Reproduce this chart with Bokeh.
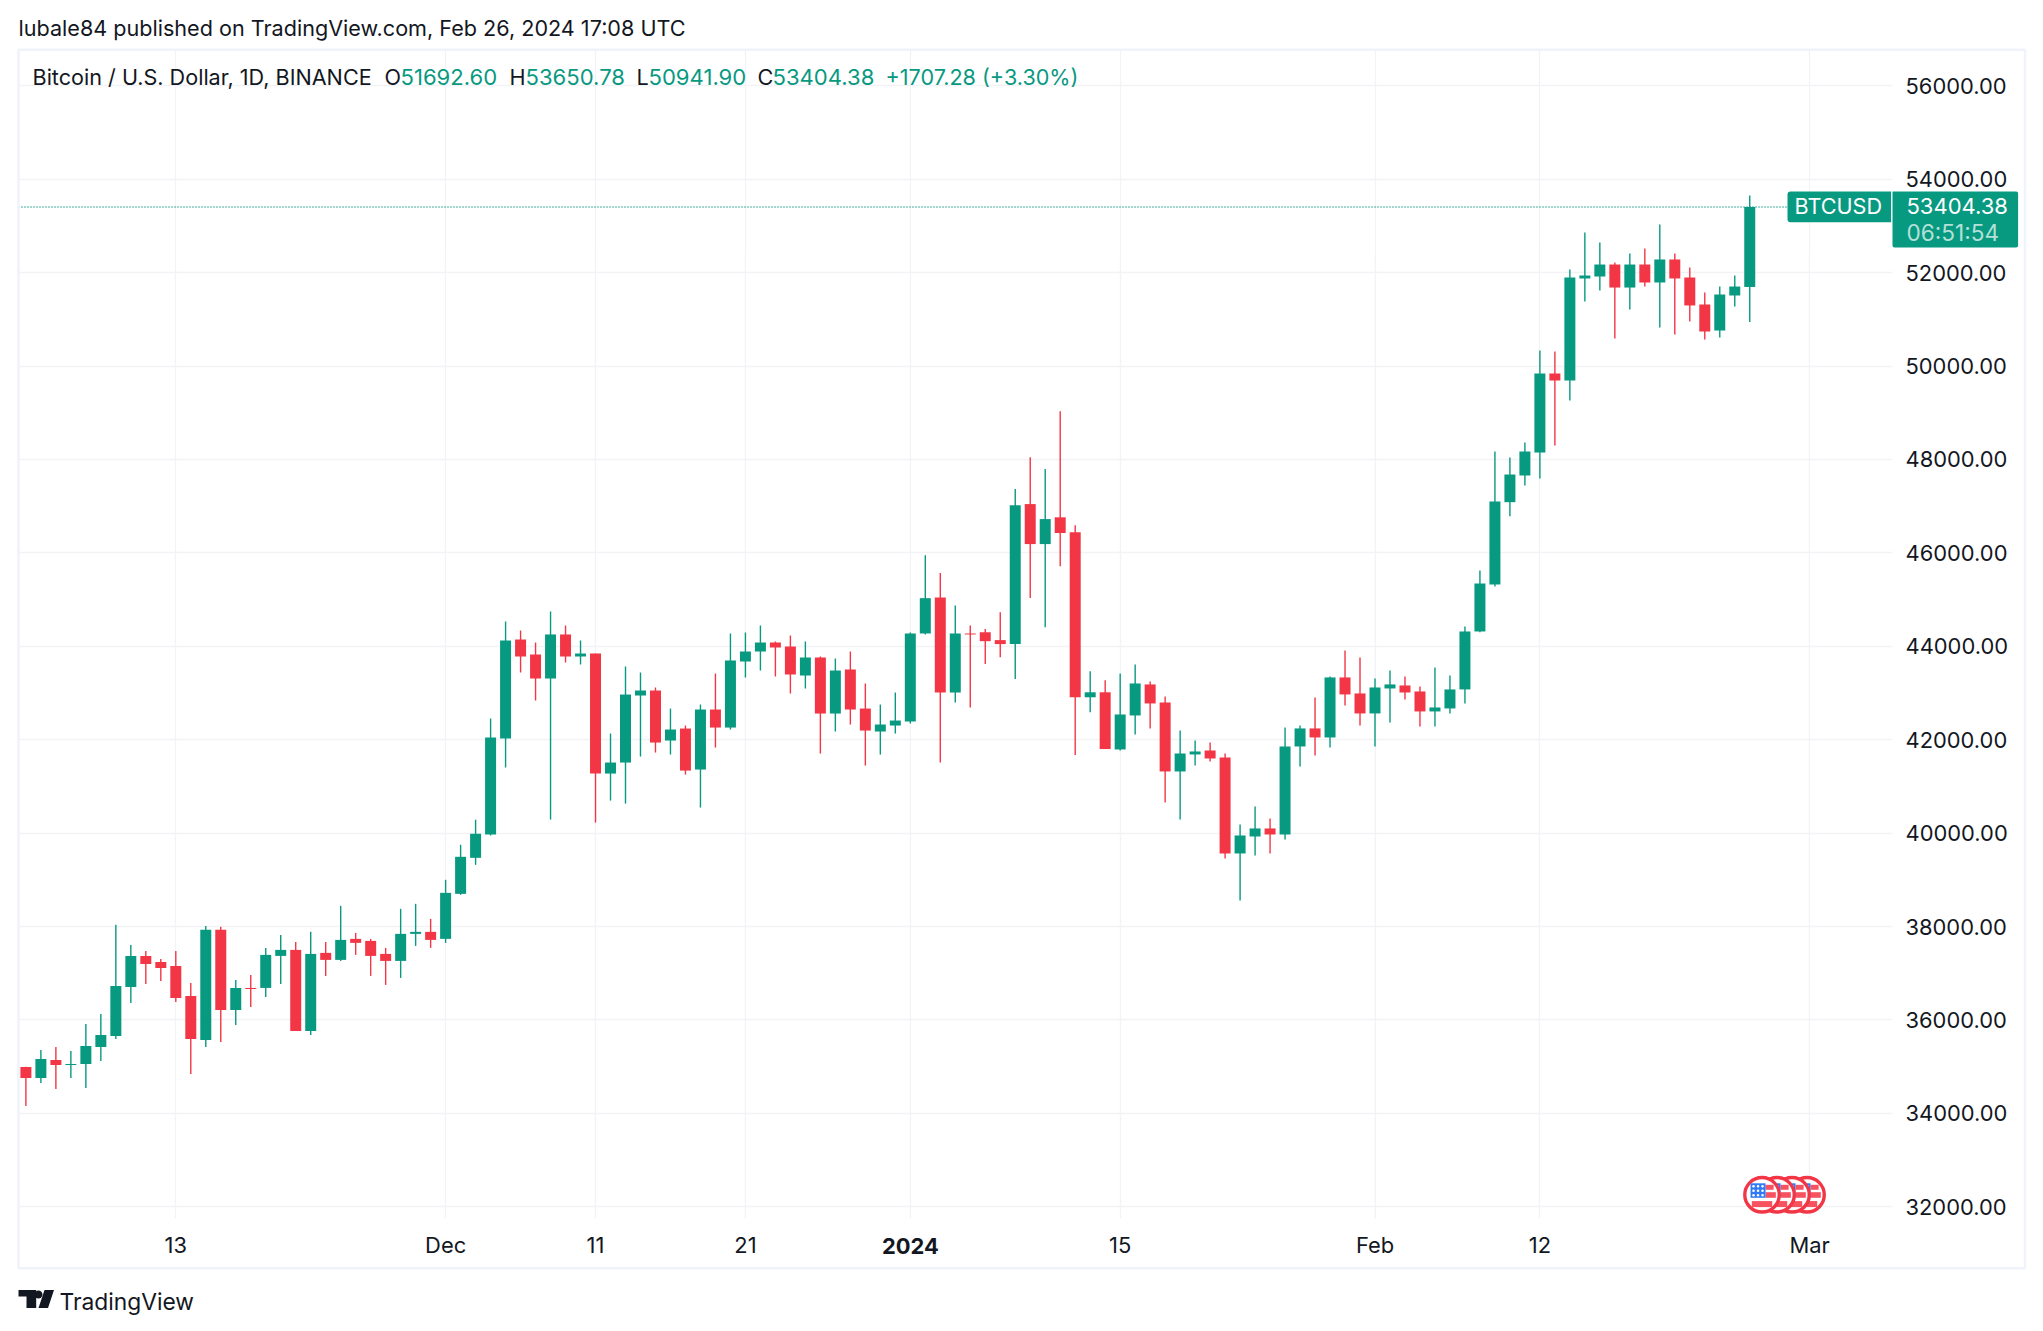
from datetime import date
import math
from bokeh.plotting import figure
from bokeh.models import (ColumnDataSource, FixedTicker, Label, BoxAnnotation, LinearAxis,
                          NumeralTickFormatter)
from bokeh.embed import file_html
from bokeh.resources import INLINE

first_day = date(2023, 11, 3)
opens = [34993,34757,35143,35036,35057,35421,35657,36707,37371,37243,37157,36514,35571,37929,36214,36686,36686,37371,37500,35764,
         37436,37286,37736,37693,37414,37264,37843,37886,37736,38700,39471,39969,42025,44145,43824,43310,44253,43781,43845,41275,
         41511,42946,43053,41982,42239,41361,42646,42260,43674,43888,44081,43995,43374,43760,42560,43503,42667,42175,42303,42389,
         44274,45045,43010,44274,44300,44132,44047,47044,46188,46761,46440,42908,43015,41791,42519,43183,42797,41320,41684,41769,
         41620,39564,39928,40100,39971,41855,42241,42048,43333,42990,42562,43097,43161,43033,42605,42669,43076,44317,45323,47085,
         47656,48148,49840,49690,51874,51916,52173,51680,52173,51788,52281,51895,51317,50760,51510,51692.60]
highs = [35000,35357,35421,35336,35914,36129,38036,37607,37479,37307,37479,36793,38014,37993,36857,36964,37543,37821,37671,37886,
         37671,38443,37864,37736,37543,38379,38486,38164,39000,39750,40286,42453,44531,44338,44081,44745,44445,44124,43845,42132,
         43567,43439,43117,42667,42303,42753,43417,44274,44295,44445,44103,44231,44103,43781,43738,43888,43203,42753,43010,44295,
         45951,45569,44874,44445,44369,44728,47365,48046,47794,49032,46593,43466,43275,43418,43611,43247,42926,42198,41984,41941,
         41705,40185,40571,40314,42262,42305,42904,43354,43911,43761,43311,43482,43354,43140,43547,43375,44425,45623,48170,48041,
         48362,50332,50310,52066,52858,52644,52216,52409,52516,53030,52409,52109,51574,51702,51938,53650.78]
lows = [34157,34650,34521,34757,34543,35121,35593,36364,36771,36836,36386,34843,35421,35529,35893,36279,36493,36771,35764,35679,
        36943,37264,37393,36943,36750,36900,37586,37543,37650,38679,39321,39950,41404,43439,42839,40290,43653,43610,40225,40697,
        40633,41639,41725,41682,41254,40547,41832,42218,43331,43481,43353,42989,43096,41703,42175,42325,41446,41682,42132,42346,
        44253,41511,42796,42689,43619,43765,43298,45034,44407,45714,41670,42587,41800,41770,42112,42241,40656,40292,41448,41534,
        39457,38558,39521,39564,39864,41427,41662,41834,42733,42305,41855,42369,42862,42283,42283,42562,42776,44300,45280,46785,
        47442,47592,48298,49261,51381,51617,50589,51210,51702,50825,50675,50953,50568,50610,51274,50941.90]
closes = [34757,35164,35036,35057,35443,35679,36729,37371,37200,37114,36471,35593,37929,36214,36686,36664,37393,37500,35764,37414,
          37286,37714,37650,37371,37264,37843,37886,37714,38721,39493,39986,42046,44124,43781,43310,44253,43781,43845,41275,41511,
          42967,43053,41939,42218,41339,42646,42260,43696,43888,44081,43974,43396,43760,42560,43481,42646,42196,42325,42410,44274,
          45030,43010,44274,44253,44109,44047,47021,46188,46723,46425,42908,43015,41800,42540,43204,42776,41320,41705,41748,41598,
          39564,39950,40100,39971,41855,42241,42048,43333,42969,42562,43118,43183,43011,42605,42690,43076,44317,45344,47100,47677,
          48170,49840,49690,51895,51938,52173,51680,52173,51788,52281,51874,51296,50739,51531,51702,53404.38]
price_ticks = [32000,34000,36000,38000,40000,42000,44000,46000,48000,50000,52000,54000,56000]
time_ticks = [(date(2023,11,13),"13"),(date(2023,12,1),"Dec"),(date(2023,12,11),"11"),(date(2023,12,21),"21"),
              (date(2024,1,15),"15"),(date(2024,2,1),"Feb"),(date(2024,2,12),"12"),(date(2024,3,1),"Mar")]
year_tick = (date(2024,1,1),"2024")
event_days = [date(2024,3,1),date(2024,2,29),date(2024,2,28),date(2024,2,27)]
last_price = 53404.38
event_price = 32257

UP, DOWN = "#089981", "#f23645"
INK = "#131722"
FONT = "Inter"
GRID = "#f2f3f6"

# The frame fills the canvas so that texts outside the plot pane are not clipped.
PX_PER_DAY = 14.99
PX_PER_PRICE = 93.42 / 2000
def X(px): return (px - 25.4) / PX_PER_DAY
def Y(py): return 32000 + (1206.3 - py) / PX_PER_PRICE
def idx(d): return (d - first_day).days

W, H = 2040, 1325
F_L, F_R, F_T, F_B = 18, 1892, 49, 1218
p = figure(width=W, height=H, min_border=0, x_range=(X(0), X(W)), y_range=(Y(H), Y(0)),
           x_axis_location=None, y_axis_location=None, output_backend="svg", toolbar_location=None,
           background_fill_color="white", border_fill_color="white")
p.outline_line_color = None

days = list(range(len(opens)))
colors = [UP if c >= o else DOWN for o, c in zip(opens, closes)]
src = ColumnDataSource(dict(day=days, open=opens, high=highs, low=lows, close=closes,
                            top=[max(o, c) for o, c in zip(opens, closes)],
                            bottom=[min(o, c) for o, c in zip(opens, closes)], color=colors))

# axes and grid
tick_idx = [idx(d) for d, _ in time_ticks]
xaxis = LinearAxis(fixed_location=Y(F_B), ticker=FixedTicker(ticks=tick_idx),
                   major_label_overrides={idx(d): s for d, s in time_ticks}, major_label_standoff=7)
yaxis = LinearAxis(fixed_location=X(F_R), ticker=FixedTicker(ticks=price_ticks),
                   formatter=NumeralTickFormatter(format="0.00"), major_label_standoff=7)
p.add_layout(xaxis, "below")
p.add_layout(yaxis, "right")
for ax in (xaxis, yaxis):
    ax.axis_line_color = None
    ax.major_tick_line_color = None
    ax.minor_tick_line_color = None
    ax.major_label_text_font = FONT
    ax.major_label_text_font_size = "21.9px"
    ax.major_label_text_color = INK
p.xgrid.ticker = FixedTicker(ticks=tick_idx + [idx(year_tick[0])])
p.ygrid.ticker = FixedTicker(ticks=price_ticks)
for g in (p.xgrid[0], p.ygrid[0]):
    g.grid_line_color = GRID
    g.grid_line_width = 1.3

# white bands keep the grid inside the plot pane
for a, b, c, d in [(0, W, 0, F_T), (0, W, F_B, H), (0, F_L, 0, H), (F_R, W, 0, H)]:
    p.quad(left=[X(a)], right=[X(b)], top=[Y(c)], bottom=[Y(d)], fill_color="white", line_color=None)

# last price line
p.segment([X(F_L)], [last_price], [X(1787)], [last_price], line_color=UP, line_width=1.6, line_dash="1 2")

# candles
p.segment("day", "high", "day", "low", source=src, line_color="color", line_width=1.4)
p.vbar(x="day", width=11/15, top="top", bottom="bottom", source=src, fill_color="color", line_color=None)

# economic events (US flags)
DX, DY = 1/PX_PER_DAY, 1/PX_PER_PRICE
for d in event_days:
    cx = idx(d) - 0.18
    cy = event_price
    p.scatter([cx], [cy], size=34.5, fill_color="white", line_color=DOWN, line_width=3.4)
    for off, h, x0 in ((-7.5, 5, 3.5), (0.2, 5.6, 3.5), (9.3, 6, -15)):
        half = math.sqrt(max(1, 13.8**2 - off**2))
        left = max(-half, x0)
        p.quad(left=[cx + left*DX], right=[cx + half*DX], top=[cy - (off-h/2)*DY], bottom=[cy - (off+h/2)*DY],
               fill_color="#f7525f", line_color=None)
    p.quad(left=[cx - 11.5*DX], right=[cx + 3.5*DX], top=[cy + 11.5*DY], bottom=[cy - 3*DY],
           fill_color="#3179f5", line_color=None)
    star_x = [cx + sx*DX for sx in (-8.5, -4, 0.5) for _ in (0, 1, 2)]
    star_y = [cy + sy*DY for _ in (0, 1, 2) for sy in (8.5, 4, -0.5)]
    p.scatter(star_x, star_y, size=2.6, fill_color="white", line_color=None)

def text(px, py, s, color=INK, size=21.6, style="normal", align="left"):
    p.add_layout(Label(x=X(px), y=Y(py), text=s, text_color=color, text_font=FONT, text_font_size=f"{size}px",
                       text_font_style=style, text_align=align, text_baseline="middle"))

# outer frame
p.add_layout(BoxAnnotation(left=X(18), right=X(2024.5), top=Y(49.3), bottom=Y(1267.7),
                           fill_alpha=0, line_color="#f0f3fa", line_width=2.6, line_alpha=1))

# bold year tick
p.add_layout(Label(x=idx(year_tick[0]), y=Y(1245), text=year_tick[1], text_color=INK, text_font=FONT,
                   text_font_size="21.9px", text_font_style="bold", text_align="center", text_baseline="middle"))

# header
text(18, 27.7, "lubale84 published on TradingView.com, Feb 26, 2024 17:08 UTC")
text(32, 76.7, "Bitcoin / U.S. Dollar, 1D, BINANCE")
for px, s, col, sz in [(384,"O",INK,21.6),(400,"51692.60",UP,22.1),(509,"H",INK,21.6),(525,"53650.78",UP,22.1),
                       (636,"L",INK,21.6),(648,"50941.90",UP,22.1),(757,"C",INK,21.6),(772,"53404.38",UP,22.1),
                       (885,"+1707.28 (+3.30%)",UP,21.6)]:
    text(px, 76.7, s, color=col, size=sz)

# last-price labels
p.add_layout(BoxAnnotation(left=X(1787), right=X(1890.6), top=Y(191), bottom=Y(221.7), fill_color=UP, fill_alpha=1,
                           line_color=None, border_radius=dict(top_left=3, bottom_left=3, top_right=0, bottom_right=0)))
p.add_layout(BoxAnnotation(left=X(1892), right=X(2017.6), top=Y(191), bottom=Y(247), fill_color=UP, fill_alpha=1,
                           line_color=None, border_radius=dict(top_left=0, bottom_left=2, top_right=2, bottom_right=2)))
text(1794, 205.5, "BTCUSD", color="white")
text(1906, 205.5, "53404.38", color="white", size=22)
text(1906, 231.5, "06:51:54", color="#b5e0d9", size=22.6)

# footer logo
def poly(pts):
    p.patch([X(a) for a, _ in pts], [Y(b) for _, b in pts], fill_color=INK, line_color=None)
poly([(18,1289.5),(35.7,1289.5),(35.7,1307.5),(26,1307.5),(26,1296),(18,1296)])
poly([(38+4*math.cos(a/16*2*math.pi), 1294+4*math.sin(a/16*2*math.pi)) for a in range(16)])
poly([(44,1289.5),(53.5,1289.5),(47.5,1307.5),(38,1307.5)])
text(59, 1301, "TradingView", size=22.8)

open("out.html", "w").write(file_html(p, INLINE))
